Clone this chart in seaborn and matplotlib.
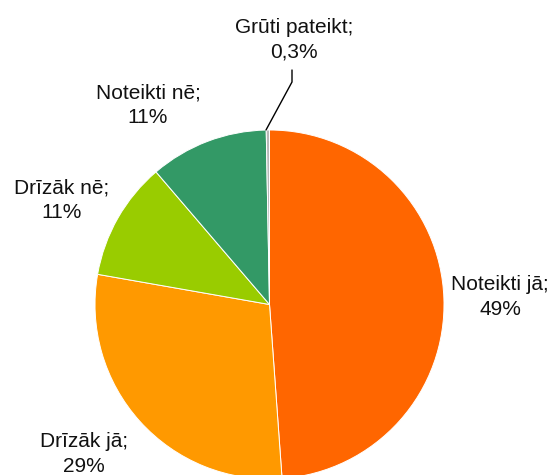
import seaborn as sns
import matplotlib.pyplot as plt

categories = ['Noteikti jā', 'Drīzāk jā', 'Drīzāk nē', 'Noteikti nē', 'Grūti pateikt']
values = [49, 29, 11, 11, 0.3]
colors = ['#FF6600', '#FF9900', '#99CC00', '#339966', '#B8B8B8']

sns.set_theme(style='white')
plt.rcParams['font.family'] = ['Liberation Sans', 'DejaVu Sans']

W, H = 551, 475
cx, cy, r = 269.5, 304.5, 174.5


def px(x, y):
    # pixel coords -> data coords (pie radius 1 at the centre)
    return (x - cx) / r, (cy - y) / r


fig = plt.figure(figsize=(W / 100, H / 100), dpi=100)
ax = fig.add_axes([0, 0, 1, 1])
ax.pie(values, colors=colors, startangle=90, counterclock=False,
       wedgeprops=dict(edgecolor='white', linewidth=0.7))
ax.set_xlim(px(0, 0)[0], px(W, 0)[0])
ax.set_ylim(px(0, H)[1], px(0, 0)[1])
ax.set_aspect('equal')
ax.axis('off')


def fmt(v):
    s = ('%g' % v).replace('.', ',')
    return s + '%'


label_pos = [(500, 297), (84, 454), (62, 200), (148, 105), (294, 40)]
for name, v, (x, y) in zip(categories, values, label_pos):
    ax.text(*px(x, y), '%s;\n%s' % (name, fmt(v)), ha='center', va='center',
            fontsize=15, color='#111111', linespacing=1.35)

# leader line for the tiny slice
lx, ly = zip(px(266, 130), px(292, 82), px(292, 70))
ax.plot(lx, ly, color='black', linewidth=1)

plt.savefig('out.png', dpi=100)
